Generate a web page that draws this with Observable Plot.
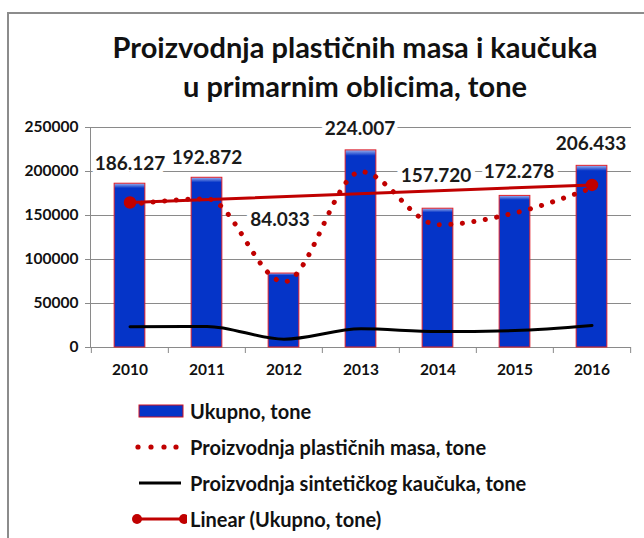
<!DOCTYPE html>
<html>
<head>
<meta charset="utf-8">
<script src="https://cdn.jsdelivr.net/npm/d3@7"></script>
<script src="https://cdn.jsdelivr.net/npm/@observablehq/plot@0.6"></script>
<style>
  html, body { margin: 0; padding: 0; background: #fff; }
  #wrap { position: relative; width: 644px; height: 538px; overflow: hidden; font-family: Lato, "Open Sans", sans-serif; }
  #frame { position: absolute; left: 7px; top: 12px; width: 660px; height: 526px; border-top: 2px solid #8c8c8c; border-left: 2px solid #8c8c8c; z-index: 3; pointer-events: none; }
  #title { position: absolute; left: 0; width: 710px; top: 27px; text-align: center; font-weight: 700; font-size: 29px; line-height: 39px; color: #111; z-index: 2; }
  #chart { position: absolute; left: 0; top: 0; }
  .leg { position: absolute; left: 0; height: 24px; display: flex; align-items: center; font-weight: 700; font-size: 20px; color: #111; white-space: nowrap; }
  .leg svg { display: block; margin-left: 130px; margin-right: 3px; }
</style>
</head>
<body>
<div id="wrap">
  <div id="frame"></div>
  <div id="title">Proizvodnja plastičnih masa i kaučuka<br>u primarnim oblicima, tone</div>
  <div id="chart"></div>
  <div id="legend"></div>
</div>
<script>
// ---- data ----
const years = ["2010", "2011", "2012", "2013", "2014", "2015", "2016"];
const ukupno = [186127, 192872, 84033, 224007, 157720, 172278, 206433];
const plasticne = [162500, 168900, 74600, 199800, 139500, 153000, 181400];
const kaucuk = [23600, 24000, 9400, 21200, 18200, 19300, 25000];
const ukupnoLabels = ["186.127", "192.872", "84.033", "224.007", "157.720", "172.278", "206.433"];
const yTicks = [0, 50000, 100000, 150000, 200000, 250000];
const seriesNames = ["Ukupno, tone", "Proizvodnja plastičnih masa, tone", "Proizvodnja sintetičkog kaučuka, tone", "Linear (Ukupno, tone)"];

// ---- styling / layout ----
const RED = "#C00000", BLUE = "#0534C8", GRID = "#8a8a8a";
const W = 644, H = 390, ML = 90, MR = 13, MT = 127, MB = 43;
const bw = (W - ML - MR) / years.length;
const labelDy = [-20, -20, -54, -21, -33, -24, -22];
const labelDx = [0, 0, -4, -1, -2, 4, -1];

const rows = years.map((y, i) => ({year: y, total: ukupno[i], plast: plasticne[i], kauc: kaucuk[i], label: ukupnoLabels[i], i}));

// linear trend of Ukupno (least squares over category index, as in Excel)
const n = ukupno.length, mx = (n - 1) / 2, my = d3.mean(ukupno);
const slope = d3.sum(ukupno, (v, i) => (i - mx) * (v - my)) / d3.sum(ukupno, (v, i) => (i - mx) ** 2);
const trend = [0, n - 1].map(i => ({year: years[i], v: my + slope * (i - mx)}));

const labelMarks = rows.map(r => Plot.text([r], {
  x: "year", y: "total", text: "label", dy: labelDy[r.i], dx: labelDx[r.i],
  fontSize: 19, fontWeight: 700, fill: "#1a1a1a", stroke: "white", strokeWidth: 9, strokeLinejoin: "round", paintOrder: "stroke"
}));

const chart = Plot.plot({
  width: W, height: H, marginLeft: ML, marginRight: MR, marginTop: MT, marginBottom: MB,
  style: {background: "transparent", fontFamily: "Lato, sans-serif", overflow: "visible"},
  x: {domain: years, padding: 0, label: null},
  y: {domain: [0, 250000], label: null},
  marks: [
    Plot.gridY(yTicks, {stroke: GRID, strokeOpacity: 1, strokeWidth: 1}),
    Plot.axisY(yTicks, {tickSize: 5, tickPadding: 7, stroke: GRID, tickFormat: d3.format("d"), fontSize: 15.5, fontWeight: 700, fill: "#111", label: null}),
    Plot.frame({anchor: "left", stroke: GRID}),
    Plot.ruleX(years, {x: d => d, dx: -bw / 2, y1: 0, y2: 0, insetBottom: -6, stroke: GRID}),
    Plot.ruleX([years[years.length - 1]], {x: d => d, dx: bw / 2, y1: 0, y2: 0, insetBottom: -6, stroke: GRID}),
    Plot.axisX({tickSize: 0, tickPadding: 16, fontSize: 15.5, fontWeight: 700, fill: "#111", label: null}),
    Plot.barY(rows, {x: "year", y: "total", fill: "url(#barGrad)", stroke: "#e0202a", strokeWidth: 1, insetLeft: (bw - 31) / 2, insetRight: (bw - 31) / 2}),
    Plot.line(rows, {x: "year", y: "kauc", stroke: "#000", strokeWidth: 3, curve: "monotone-x"}),
    Plot.line(rows, {x: "year", y: "plast", stroke: RED, strokeWidth: 5, strokeLinecap: "round", strokeDasharray: "0.1 11.5", curve: "monotone-x"}),
    Plot.line(trend, {x: "year", y: "v", stroke: RED, strokeWidth: 3}),
    Plot.dot(trend, {x: "year", y: "v", r: 5.5, fill: RED, stroke: RED}),
    ...labelMarks
  ]
});
const defs = d3.select(chart).insert("defs", ":first-child");
const g = defs.append("linearGradient").attr("id", "barGrad").attr("x1", 0).attr("x2", 0).attr("y1", 0).attr("y2", 1);
g.append("stop").attr("offset", "0").attr("stop-color", "#9fb3ee");
g.append("stop").attr("offset", "0.03").attr("stop-color", BLUE);
g.append("stop").attr("offset", "1").attr("stop-color", BLUE);
document.getElementById("chart").appendChild(chart);

// ---- legend ----
const legend = document.getElementById("legend");
const legTops = [399, 435, 471, 507];
const swatches = [
  s => s.append("rect").attr("x", 9).attr("y", 6).attr("width", 44).attr("height", 12).attr("fill", BLUE).attr("stroke", "#d01020").attr("stroke-width", 1),
  s => s.selectAll("circle").data([8, 21, 34, 46]).join("circle").attr("cx", d => d).attr("cy", 12).attr("r", 2.6).attr("fill", RED),
  s => s.append("line").attr("x1", 9).attr("x2", 51).attr("y1", 12).attr("y2", 12).attr("stroke", "#000").attr("stroke-width", 3),
  s => { s.append("line").attr("x1", 7).attr("x2", 54).attr("y1", 12).attr("y2", 12).attr("stroke", RED).attr("stroke-width", 3);
         s.selectAll("circle").data([7, 54]).join("circle").attr("cx", d => d).attr("cy", 12).attr("r", 5).attr("fill", RED); }
];
seriesNames.forEach((name, i) => {
  const row = document.createElement("div");
  row.className = "leg";
  row.style.top = legTops[i] + "px";
  const s = d3.create("svg").attr("width", 57).attr("height", 24);
  swatches[i](s);
  row.appendChild(s.node());
  const t = document.createElement("span");
  t.textContent = name;
  row.appendChild(t);
  legend.appendChild(row);
});
</script>
</body>
</html>
